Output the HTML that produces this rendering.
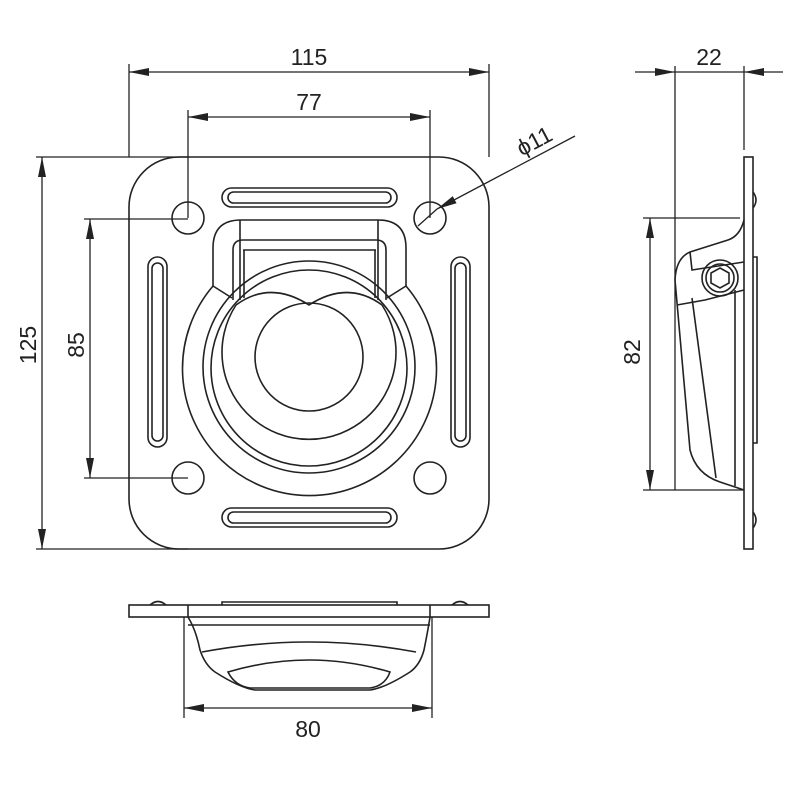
<!DOCTYPE html>
<html><head><meta charset="utf-8"><style>html,body{margin:0;background:#fff}svg{display:block}text{font-family:"Liberation Sans",sans-serif;font-size:23px;fill:#222}</style></head><body>
<svg width="800" height="800" viewBox="0 0 800 800" xmlns="http://www.w3.org/2000/svg">
<defs>
<marker id="a" viewBox="0 0 20 8" refX="20" refY="4" markerWidth="20" markerHeight="8" markerUnits="userSpaceOnUse" orient="auto"><path d="M0,0 L20,4 L0,8 Z" fill="#222"/></marker>
</defs>
<g fill="none" stroke="#222" stroke-width="1.6">
<rect x="129" y="157" width="360" height="392" rx="50"/>
<circle cx="188" cy="218" r="16"/><circle cx="430" cy="218" r="16"/>
<circle cx="188" cy="478" r="16"/><circle cx="430" cy="478" r="16"/>
<rect x="222" y="188" width="175" height="19" rx="9.5"/><rect x="228" y="192" width="163" height="11" rx="5.5"/>
<rect x="222" y="508" width="175" height="19" rx="9.5"/><rect x="228" y="512" width="163" height="11" rx="5.5"/>
<rect x="148" y="257" width="19" height="190" rx="9.5"/><rect x="152" y="263" width="11" height="178" rx="5.5"/>
<rect x="451" y="257" width="19" height="190" rx="9.5"/><rect x="455" y="263" width="11" height="178" rx="5.5"/>
<path d="M213,286 L213,248 Q213,220 241,220 L378,220 Q406,220 406,248 L406,286"/>
<path d="M213,286 A127,127 0 1 0 406,286"/>
<path d="M213,286 L232,298 M406,286 L387,298"/>
<circle cx="309" cy="367" r="106"/>
<circle cx="309" cy="368" r="98"/>
<line x1="240" y1="220" x2="240" y2="300"/><line x1="378" y1="220" x2="378" y2="300"/>
<path d="M233,300 L233,250 Q233,240 243,240 L376,240 Q386,240 386,250 L386,300"/>
<line x1="243" y1="250" x2="376" y2="250"/>
<line x1="244" y1="250" x2="244" y2="298"/><line x1="375" y1="250" x2="375" y2="298"/>
<path d="M236,305 Q270,280 309,305 Q348,280 382,305"/>
<path d="M236,305 A87,87 0 1 0 382,305"/>
<circle cx="309" cy="357" r="54"/>
<rect x="744" y="157" width="9" height="392"/>
<path d="M753,192 q6,8 0,16 M753,257 L757,257 L757,443 L753,443 M753,512 q6,8 0,16"/>
<path d="M744,220 Q740,236 728,240 L690,252 Q676,258 675,280 L690,450 Q696,474 720,482 L744,490"/>
<path d="M690,252 L692,270 L744,262"/>
<path d="M677,305 L705,300 L744,290"/>
<line x1="692" y1="298" x2="716" y2="478"/>
<line x1="735" y1="290" x2="735" y2="486"/>
<circle cx="720" cy="278" r="18"/><circle cx="720" cy="278" r="14"/>
<path d="M720,268 L729,273 L729,283 L720,288 L711,283 L711,273 Z"/>
<rect x="129" y="605" width="360" height="12"/>
<line x1="188" y1="605" x2="188" y2="617"/><line x1="430" y1="605" x2="430" y2="617"/>
<path d="M150,605 q8,-7 16,0 M222,605 L222,602 L397,602 L397,605 M452,605 q8,-7 16,0"/>
<line x1="188" y1="625" x2="430" y2="625"/>
<path d="M188,617 Q196,630 200,650 Q205,665 215,672 Q240,688 255,690 L370,690 Q385,688 410,672 Q420,665 424,650 Q428,630 430,617"/>
<path d="M202,652 Q309,632 416,652"/>
<path d="M228,672 Q309,648 390,672 Q385,686 370,688 L250,688 Q235,686 228,672 Z"/>
</g>
<g fill="none" stroke="#222" stroke-width="1.3">
<line x1="129" y1="64" x2="129" y2="157"/><line x1="489" y1="64" x2="489" y2="157"/>
<line x1="300" y1="72" x2="129" y2="72" marker-end="url(#a)"/><line x1="300" y1="72" x2="489" y2="72" marker-end="url(#a)"/>
<line x1="188" y1="110" x2="188" y2="218"/><line x1="430" y1="110" x2="430" y2="218"/>
<line x1="309" y1="117" x2="188" y2="117" marker-end="url(#a)"/><line x1="309" y1="117" x2="430" y2="117" marker-end="url(#a)"/>
<line x1="36" y1="157" x2="188" y2="157"/><line x1="36" y1="549" x2="188" y2="549"/>
<line x1="42" y1="350" x2="42" y2="157" marker-end="url(#a)"/><line x1="42" y1="350" x2="42" y2="549" marker-end="url(#a)"/>
<line x1="84" y1="219" x2="188" y2="219"/><line x1="84" y1="478" x2="188" y2="478"/>
<line x1="90" y1="350" x2="90" y2="219" marker-end="url(#a)"/><line x1="90" y1="350" x2="90" y2="478" marker-end="url(#a)"/>
<line x1="575" y1="136" x2="437" y2="209" marker-end="url(#a)"/>
<line x1="437" y1="209" x2="418" y2="226"/>
<line x1="675" y1="66" x2="675" y2="490"/><line x1="744" y1="66" x2="744" y2="150"/>
<line x1="635" y1="72" x2="675" y2="72" marker-end="url(#a)"/><line x1="783" y1="72" x2="744" y2="72" marker-end="url(#a)"/>
<line x1="675" y1="72" x2="744" y2="72"/>
<line x1="643" y1="218" x2="740" y2="218"/><line x1="643" y1="490" x2="744" y2="490"/>
<line x1="650" y1="350" x2="650" y2="218" marker-end="url(#a)"/><line x1="650" y1="350" x2="650" y2="490" marker-end="url(#a)"/>
<line x1="184" y1="617" x2="184" y2="718"/><line x1="432" y1="617" x2="432" y2="718"/>
<line x1="308" y1="708" x2="184" y2="708" marker-end="url(#a)"/><line x1="308" y1="708" x2="432" y2="708" marker-end="url(#a)"/>
</g>
<text x="309" y="65" text-anchor="middle">115</text>
<text x="309" y="110" text-anchor="middle">77</text>
<text x="709" y="65" text-anchor="middle">22</text>
<text x="308" y="737" text-anchor="middle">80</text>
<text transform="translate(36,345) rotate(-90)" text-anchor="middle">125</text>
<text transform="translate(84,345) rotate(-90)" text-anchor="middle">85</text>
<text transform="translate(640,352) rotate(-90)" text-anchor="middle">82</text>
<text transform="translate(538,148) rotate(-28)" text-anchor="middle">ϕ11</text>
</svg>
</body></html>
